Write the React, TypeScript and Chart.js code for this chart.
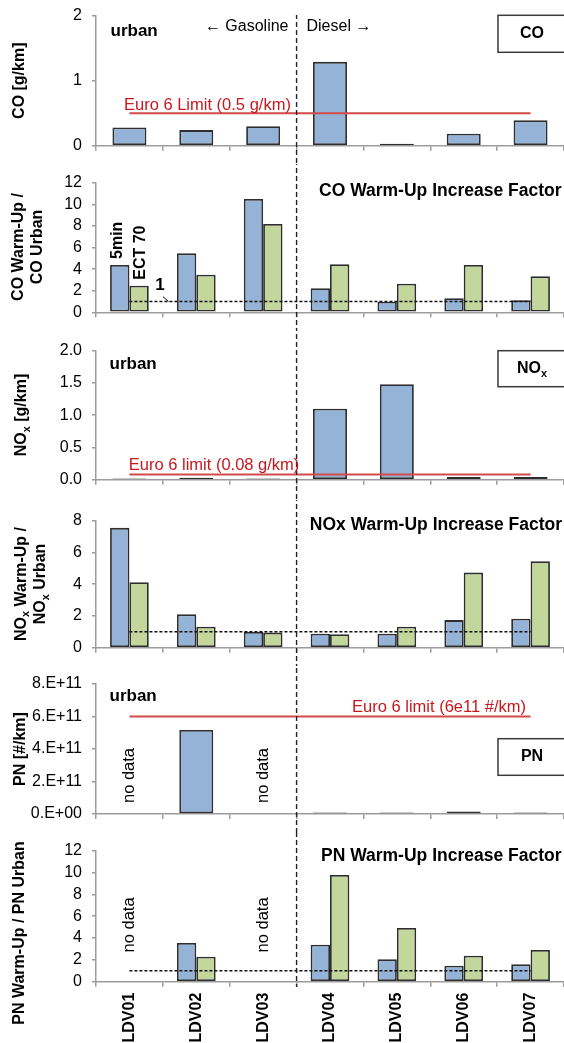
import React, { useEffect, useRef } from "react";
import { Chart, registerables } from "chart.js";

Chart.register(...registerables);

// ---------------- DATA ----------------
const categories = ["LDV01", "LDV02", "LDV03", "LDV04", "LDV05", "LDV06", "LDV07"];

const coUrban = [0.28, 0.24, 0.3, 1.29, 0.03, 0.185, 0.39];
const coWarm5min = [4.38, 5.46, 10.5, 2.22, 0.98, 1.3, 1.11];
const coWarmEct70 = [2.46, 3.48, 8.18, 4.44, 2.65, 4.38, 3.33];

const noxUrban = [0.02, 0.03, 0.02, 1.1, 1.48, 0.04, 0.04];
const noxWarm5min = [7.55, 2.1, 0.99, 0.88, 0.88, 1.74, 1.83];
const noxWarmEct70 = [4.12, 1.32, 0.95, 0.85, 1.32, 4.73, 5.44];

const pnUrban = [null, 5.17e11, null, 0.09e11, 0.09e11, 0.15e11, 0.09e11];
const pnWarm5min = [null, 3.54, null, 3.39, 2.05, 1.47, 1.59];
const pnWarmEct70 = [null, 2.29, null, 9.77, 4.92, 2.38, 2.9];

const coLimit = [0.5, 0.5, 0.5, 0.5, 0.5, 0.5, 0.5];
const noxLimit = [0.08, 0.08, 0.08, 0.08, 0.08, 0.08, 0.08];
const pnLimit = [6e11, 6e11, 6e11, 6e11, 6e11, 6e11, 6e11];
const unityLine = [1, 1, 1, 1, 1, 1, 1];

const coTicks = ["0", "1", "2"];
const factor12Ticks = ["0", "2", "4", "6", "8", "10", "12"];
const noxTicks = ["0.0", "0.5", "1.0", "1.5", "2.0"];
const factor8Ticks = ["0", "2", "4", "6", "8"];
const pnTicks = ["0.E+00", "2.E+11", "4.E+11", "6.E+11", "8.E+11"];

const noDataText = "no data";

// ---------------- STYLE ----------------
const FONT = '"Liberation Sans", Arial, Helvetica, sans-serif';
const BLUE = "#95B3D7";
const GREEN = "#C3D69B";
const BAR_BORDER = "#2e2e2e";
const AXIS = "#9c9c9c";
const RED_LINE = "#D24A4A";
const RED_TEXT = "#C8181E";
const PAGE_W = 564;

type Seg = { t: string; sub?: boolean };
type Txt = {
  segs: Seg[];
  x: number;
  y: number;
  size: number;
  bold?: boolean;
  align?: "left" | "right" | "center";
  color?: string;
  rot?: boolean;
  baseline?: CanvasTextBaseline;
};

type Panel = {
  top: number;
  height: number;
  areaTop: number;
  areaBottom: number;
  bars: { data: (number | null)[]; color: string }[];
  lines: { data: number[]; color: string; width: number; dash?: number[] }[];
  yMax: number;
  yStep: number;
  tickLabels: string[];
  showX: boolean;
  catPct: number;
  yTitle: { lines: Seg[][]; xs: number[]; y: number };
  texts: Txt[];
  box?: { segs: Seg[]; top: number; bottom: number };
  noDataValue?: number;
  seriesLabels?: boolean;
  dividerFrom?: number;
  dividerTo?: number;
};

const S = (t: string): Seg[] => [{ t }];

const panels: Panel[] = [
  {
    top: 0, height: 164, areaTop: 15.7, areaBottom: 145.7,
    bars: [{ data: coUrban, color: BLUE }],
    lines: [{ data: coLimit, color: RED_LINE, width: 2 }],
    yMax: 2, yStep: 1, tickLabels: coTicks, showX: false, catPct: 0.508,
    yTitle: { lines: [S("CO [g/km]")], xs: [20], y: 80.7 },
    texts: [
      { segs: S("urban"), x: 110.5, y: 31.7, size: 17, bold: true, align: "left" },
      { segs: S("\u2190 Gasoline"), x: 288.5, y: 26.5, size: 16, align: "right" },
      { segs: S("Diesel \u2192"), x: 306.5, y: 26.5, size: 16, align: "left" },
      { segs: S("Euro 6 Limit (0.5 g/km)"), x: 124, y: 109.5, size: 16.5, align: "left", color: RED_TEXT, baseline: "alphabetic" },
    ],
    box: { segs: S("CO"), top: 15.3, bottom: 52.3 },
    dividerFrom: 15,
  },
  {
    top: 164, height: 167, areaTop: 182.7, areaBottom: 312.3,
    bars: [{ data: coWarm5min, color: BLUE }, { data: coWarmEct70, color: GREEN }],
    lines: [{ data: unityLine, color: "#111", width: 1.5, dash: [3, 2] }],
    yMax: 12, yStep: 2, tickLabels: factor12Ticks, showX: false, catPct: 0.579,
    yTitle: { lines: [S("CO Warm-Up /"), S("CO Urban")], xs: [19, 38], y: 247 },
    texts: [
      { segs: S("CO Warm-Up Increase Factor"), x: 561.5, y: 190.7, size: 17.5, bold: true, align: "right" },
      { segs: S("1"), x: 160, y: 285.7, size: 17, bold: true, align: "center" },
    ],
    seriesLabels: true,
  },
  {
    top: 331, height: 169, areaTop: 350.7, areaBottom: 479.7,
    bars: [{ data: noxUrban, color: BLUE }],
    lines: [{ data: noxLimit, color: RED_LINE, width: 2 }],
    yMax: 2, yStep: 0.5, tickLabels: noxTicks, showX: false, catPct: 0.508,
    yTitle: { lines: [[{ t: "NO" }, { t: "x", sub: true }, { t: " [g/km]" }]], xs: [22], y: 415 },
    texts: [
      { segs: S("urban"), x: 109.5, y: 364.3, size: 17, bold: true, align: "left" },
      { segs: S("Euro 6 limit (0.08 g/km)"), x: 128.8, y: 470, size: 16.5, align: "left", color: RED_TEXT, baseline: "alphabetic" },
    ],
    box: { segs: [{ t: "NO" }, { t: "x", sub: true }], top: 350.7, bottom: 386.7 },
  },
  {
    top: 500, height: 166, areaTop: 520.7, areaBottom: 647.7,
    bars: [{ data: noxWarm5min, color: BLUE }, { data: noxWarmEct70, color: GREEN }],
    lines: [{ data: unityLine, color: "#111", width: 1.5, dash: [3, 2] }],
    yMax: 8, yStep: 2, tickLabels: factor8Ticks, showX: false, catPct: 0.579,
    yTitle: {
      lines: [
        [{ t: "NO" }, { t: "x", sub: true }, { t: " Warm-Up /" }],
        [{ t: "NO" }, { t: "x", sub: true }, { t: " Urban" }],
      ],
      xs: [21.5, 41],
      y: 584,
    },
    texts: [
      { segs: S("NOx Warm-Up Increase Factor"), x: 562, y: 525, size: 17.5, bold: true, align: "right" },
    ],
  },
  {
    top: 666, height: 166, areaTop: 684, areaBottom: 814,
    bars: [{ data: pnUrban, color: BLUE }],
    lines: [{ data: pnLimit, color: RED_LINE, width: 2 }],
    yMax: 8e11, yStep: 2e11, tickLabels: pnTicks, showX: false, catPct: 0.508,
    yTitle: { lines: [S("PN [#/km]")], xs: [21], y: 749 },
    texts: [
      { segs: S("urban"), x: 109.5, y: 696, size: 17, bold: true, align: "left" },
      { segs: S("Euro 6 limit (6e11 #/km)"), x: 526, y: 711.7, size: 16.5, align: "right", color: RED_TEXT, baseline: "alphabetic" },
    ],
    box: { segs: S("PN"), top: 738.7, bottom: 775.3 },
    noDataValue: 2.37e11,
  },
  {
    top: 832, height: 211, areaTop: 850.7, areaBottom: 981.7,
    bars: [{ data: pnWarm5min, color: BLUE }, { data: pnWarmEct70, color: GREEN }],
    lines: [{ data: unityLine, color: "#111", width: 1.5, dash: [3, 2] }],
    yMax: 12, yStep: 2, tickLabels: factor12Ticks, showX: true, catPct: 0.579,
    yTitle: { lines: [S("PN Warm-Up / PN Urban")], xs: [20], y: 933 },
    texts: [
      { segs: S("PN Warm-Up Increase Factor"), x: 561.5, y: 855.7, size: 17.5, bold: true, align: "right" },
    ],
    noDataValue: 5.2,
    dividerTo: 987,
  },
];

function fontStr(size: number, bold?: boolean) {
  return `${bold ? "bold " : ""}${size}px ${FONT}`;
}

function drawSegs(ctx: CanvasRenderingContext2D, t: Txt, offY: number) {
  const size = t.size;
  ctx.save();
  ctx.translate(t.x, t.y - offY);
  if (t.rot) ctx.rotate(-Math.PI / 2);
  const widths = t.segs.map((s) => {
    ctx.font = fontStr(s.sub ? size * 0.68 : size, t.bold);
    return ctx.measureText(s.t).width;
  });
  const total = widths.reduce((a, b) => a + b, 0);
  const align = t.align || "left";
  let cx = align === "center" ? -total / 2 : align === "right" ? -total : 0;
  ctx.fillStyle = t.color || "#000";
  ctx.textAlign = "left";
  ctx.textBaseline = t.baseline || "middle";
  t.segs.forEach((s, i) => {
    ctx.font = fontStr(s.sub ? size * 0.68 : size, t.bold);
    ctx.fillText(s.t, cx, s.sub ? size * 0.3 : 0);
    cx += widths[i];
  });
  ctx.restore();
}

function makeOverlay(p: Panel, idx: number) {
  return {
    id: "overlay" + idx,
    afterDatasetsDraw(chart: any) {
      const ctx: CanvasRenderingContext2D = chart.ctx;
      const xs = chart.scales.x;
      const ys = chart.scales.y;
      const off = p.top;

      // Gasoline / Diesel divider between LDV03 and LDV04
      const dx = xs.getPixelForValue(2.5);
      const y0 = p.dividerFrom !== undefined ? p.dividerFrom - off : 0;
      const y1 = p.dividerTo !== undefined ? p.dividerTo - off : p.height;
      ctx.save();
      ctx.strokeStyle = "#222";
      ctx.lineWidth = 1.4;
      ctx.setLineDash([5, 3]);
      ctx.lineDashOffset = -(y0 + off);
      ctx.beginPath();
      ctx.moveTo(dx, y0);
      ctx.lineTo(dx, y1);
      ctx.stroke();
      ctx.restore();

      // texts
      p.texts.forEach((t) => drawSegs(ctx, t, off));

      // series labels + "1" leader line
      if (p.seriesLabels) {
        ctx.save();
        ctx.strokeStyle = "#111";
        ctx.lineWidth = 1;
        ctx.beginPath();
        ctx.moveTo(163, 296.7 - off);
        ctx.lineTo(168.5, ys.getPixelForValue(1));
        ctx.stroke();
        ctx.restore();
        const m0 = chart.getDatasetMeta(1).data[0];
        const m1 = chart.getDatasetMeta(2).data[0];
        if (m0 && m1) {
          drawSegs(ctx, { segs: S("5min"), x: m0.x - 2.5, y: m0.y - 6 + off, size: 16, bold: true, align: "left", rot: true }, off);
          drawSegs(ctx, { segs: S("ECT 70"), x: m1.x + 1, y: m1.y - 6 + off, size: 16, bold: true, align: "left", rot: true }, off);
        }
      }

      // no data labels where data missing
      if (p.noDataValue !== undefined) {
        const yv = ys.getPixelForValue(p.noDataValue);
        p.bars[0].data.forEach((v, i) => {
          if (v === null) {
            drawSegs(ctx, { segs: S(noDataText), x: xs.getPixelForValue(i), y: yv + off, size: 16.5, align: "center", rot: true }, off);
          }
        });
      }

      // legend-like box
      if (p.box) {
        ctx.save();
        ctx.fillStyle = "#fff";
        ctx.strokeStyle = "#3a3a3a";
        ctx.lineWidth = 1.5;
        const bt = p.box.top - off;
        const bh = p.box.bottom - p.box.top;
        ctx.fillRect(498, bt, 80, bh);
        ctx.strokeRect(498, bt, 80, bh);
        ctx.restore();
        drawSegs(ctx, { segs: p.box.segs, x: 532, y: (p.box.top + p.box.bottom) / 2, size: 16, bold: true, align: "center" }, off);
      }
    },
    afterDraw(chart: any) {
      const ctx: CanvasRenderingContext2D = chart.ctx;
      p.yTitle.lines.forEach((ln, i) => {
        drawSegs(ctx, { segs: ln, x: p.yTitle.xs[i], y: p.yTitle.y, size: 16, bold: true, align: "center", rot: true }, p.top);
      });
    },
  };
}

function PanelChart({ p, idx }: { p: Panel; idx: number }) {
  const ref = useRef<HTMLCanvasElement>(null);
  useEffect(() => {
    const xH = p.top + p.height - p.areaBottom;
    const datasets: any[] = [
      ...p.lines.map((l) => ({
        type: "line",
        data: l.data,
        borderColor: l.color,
        borderWidth: l.width,
        borderDash: l.dash || [],
        pointRadius: 0,
        pointHoverRadius: 0,
        fill: false,
        tension: 0,
        order: 0,
      })),
      ...p.bars.map((b) => ({
        type: "bar",
        data: b.data,
        backgroundColor: b.color,
        borderColor: BAR_BORDER,
        borderWidth: 1.8,
        borderSkipped: false,
        categoryPercentage: p.catPct,
        barPercentage: 1,
        minBarLength: 0,
        order: 1,
      })),
    ];
    const chart = new Chart(ref.current as HTMLCanvasElement, {
      type: "bar",
      data: { labels: categories, datasets },
      options: {
        animation: false,
        responsive: false,
        devicePixelRatio: 1,
        events: [],
        layout: { padding: { top: p.areaTop - p.top, left: 0, right: 0, bottom: 0 } },
        plugins: { legend: { display: false }, tooltip: { enabled: false }, title: { display: false } },
        scales: {
          x: {
            type: "category",
            offset: true,
            grid: { display: true, offset: true, drawOnChartArea: false, drawTicks: true, tickLength: 5, color: AXIS, lineWidth: 1.5 },
            border: { display: true, color: AXIS, width: 1.5 },
            ticks: {
              display: p.showX,
              autoSkip: false,
              maxRotation: 90,
              minRotation: 90,
              padding: 6,
              color: "#000",
              font: { family: FONT, size: 16, weight: "bold" },
            },
            afterFit: (s: any) => {
              s.height = xH;
              s.paddingLeft = 0;
              s.paddingRight = 0;
              s.paddingTop = 0;
              s.paddingBottom = 0;
            },
          },
          y: {
            min: 0,
            max: p.yMax,
            ticks: {
              stepSize: p.yStep,
              autoSkip: false,
              padding: 10,
              color: "#000",
              font: { family: FONT, size: 16 },
              callback: (_v: any, i: number) => p.tickLabels[i],
            },
            grid: { display: true, drawOnChartArea: false, drawTicks: true, tickLength: 4, color: AXIS, lineWidth: 1.5 },
            border: { display: true, color: AXIS, width: 1.5 },
            afterFit: (s: any) => {
              s.width = 96;
              s.paddingTop = 0;
              s.paddingBottom = 0;
              s.paddingLeft = 0;
              s.paddingRight = 0;
            },
          },
        },
      } as any,
      plugins: [makeOverlay(p, idx)],
    });
    return () => chart.destroy();
  }, []);
  return (
    <canvas
      ref={ref}
      width={PAGE_W}
      height={p.height}
      style={{ position: "absolute", left: 0, top: p.top, width: PAGE_W, height: p.height, display: "block" }}
    />
  );
}

export default function App() {
  return (
    <div style={{ position: "absolute", left: 0, top: 0, width: PAGE_W, height: 1043, overflow: "hidden", background: "#fff" }}>
      {panels.map((p, i) => (
        <PanelChart key={i} p={p} idx={i} />
      ))}
    </div>
  );
}
